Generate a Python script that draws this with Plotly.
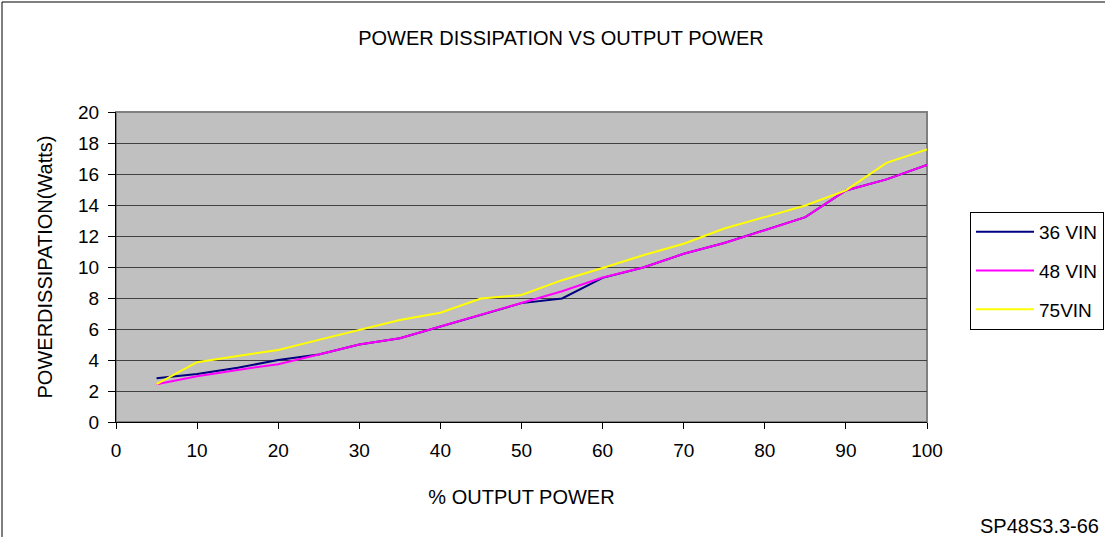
import plotly.graph_objects as go

output_pct = [5, 10, 15, 20, 25, 30, 35, 40, 45, 50, 55, 60, 65, 70, 75, 80, 85, 90, 95, 100]
vin36 = [2.83, 3.09, 3.5, 4.0, 4.35, 5.0, 5.4, 6.15, 6.9, 7.67, 7.97, 9.3, 9.97, 10.85, 11.55, 12.37, 13.22, 14.94, 15.65, 16.59]
vin48 = [2.44, 2.95, 3.36, 3.73, 4.35, 5.0, 5.4, 6.15, 6.9, 7.65, 8.44, 9.32, 9.97, 10.85, 11.55, 12.37, 13.22, 14.94, 15.65, 16.59]
vin75 = [2.44, 3.86, 4.26, 4.65, 5.3, 5.95, 6.58, 7.05, 7.97, 8.19, 9.15, 9.94, 10.76, 11.5, 12.48, 13.22, 13.97, 14.94, 16.72, 17.58]
series_names = ["36 VIN", "48 VIN", "75VIN"]
series_colors = ["#000080", "#FF00FF", "#FFFF00"]
x_ticks = list(range(0, 101, 10))
y_ticks = list(range(0, 21, 2))

FONT = "Liberation Sans, Arial, sans-serif"
FS = 19
FT = 20

fig = go.Figure()
for name, vals, col in zip(series_names, [vin36, vin48, vin75], series_colors):
    fig.add_trace(go.Scatter(x=output_pct, y=vals, mode="lines", name=name,
                             legendgroup=name,
                             line=dict(color=col, width=2)))

L, R, T, B = 116, 927, 112, 422
W, H = 1105, 537
pw, ph = R - L, B - T

def px(x):
    return (x - L) / pw

def py(y):
    return (B - y) / ph

fig.update_layout(
    width=W, height=H,
    margin=dict(l=L, r=W - R, t=T, b=H - B),
    paper_bgcolor="white",
    plot_bgcolor="#C0C0C0",
    font=dict(family=FONT, size=FS, color="black"),
    title=dict(text="POWER DISSIPATION VS OUTPUT POWER", x=561 / W, xanchor="center",
               y=1 - 38 / H, yanchor="middle", font=dict(size=FT)),
    showlegend=True,
    legend=dict(xref="container", yref="container", x=970 / W, y=1 - 212 / H,
                xanchor="left", yanchor="top",
                bgcolor="white", bordercolor="black", borderwidth=1,
                font=dict(size=FS), tracegroupgap=11, itemwidth=58),
    xaxis=dict(range=[0, 100], tickvals=x_ticks, ticks="outside", ticklen=6,
               tickcolor="black", showline=True, linecolor="black", linewidth=1,
               showgrid=False, zeroline=False, ticklabelstandoff=5,
               title=dict(text="% OUTPUT POWER", standoff=30, font=dict(size=FT))),
    yaxis=dict(range=[0, 20], tickvals=y_ticks, ticks="outside", ticklen=7,
               tickcolor="black", showline=True, linecolor="black", linewidth=1,
               showgrid=True, gridcolor="#404040", gridwidth=1, zeroline=False,
               ticklabelstandoff=5,
               title=dict(text="POWERDISSIPATION(Watts)", standoff=20, font=dict(size=FT))),
    shapes=[
        dict(type="rect", xref="paper", yref="paper", x0=0, x1=1, y0=0, y1=1,
             line=dict(color="#808080", width=2), layer="below"),
        dict(type="rect", xref="paper", yref="paper", x0=px(2), x1=px(1115), y0=py(545), y1=py(2),
             line=dict(color="black", width=1)),
    ],
    annotations=[
        dict(text="SP48S3.3-66", xref="paper", yref="paper", x=px(1101), y=py(526),
             xanchor="right", yanchor="middle", showarrow=False, font=dict(size=FT)),
    ],
)

fig.write_html("out.html", config={"displayModeBar": False},
               post_script="document.body.style.margin='0';")
